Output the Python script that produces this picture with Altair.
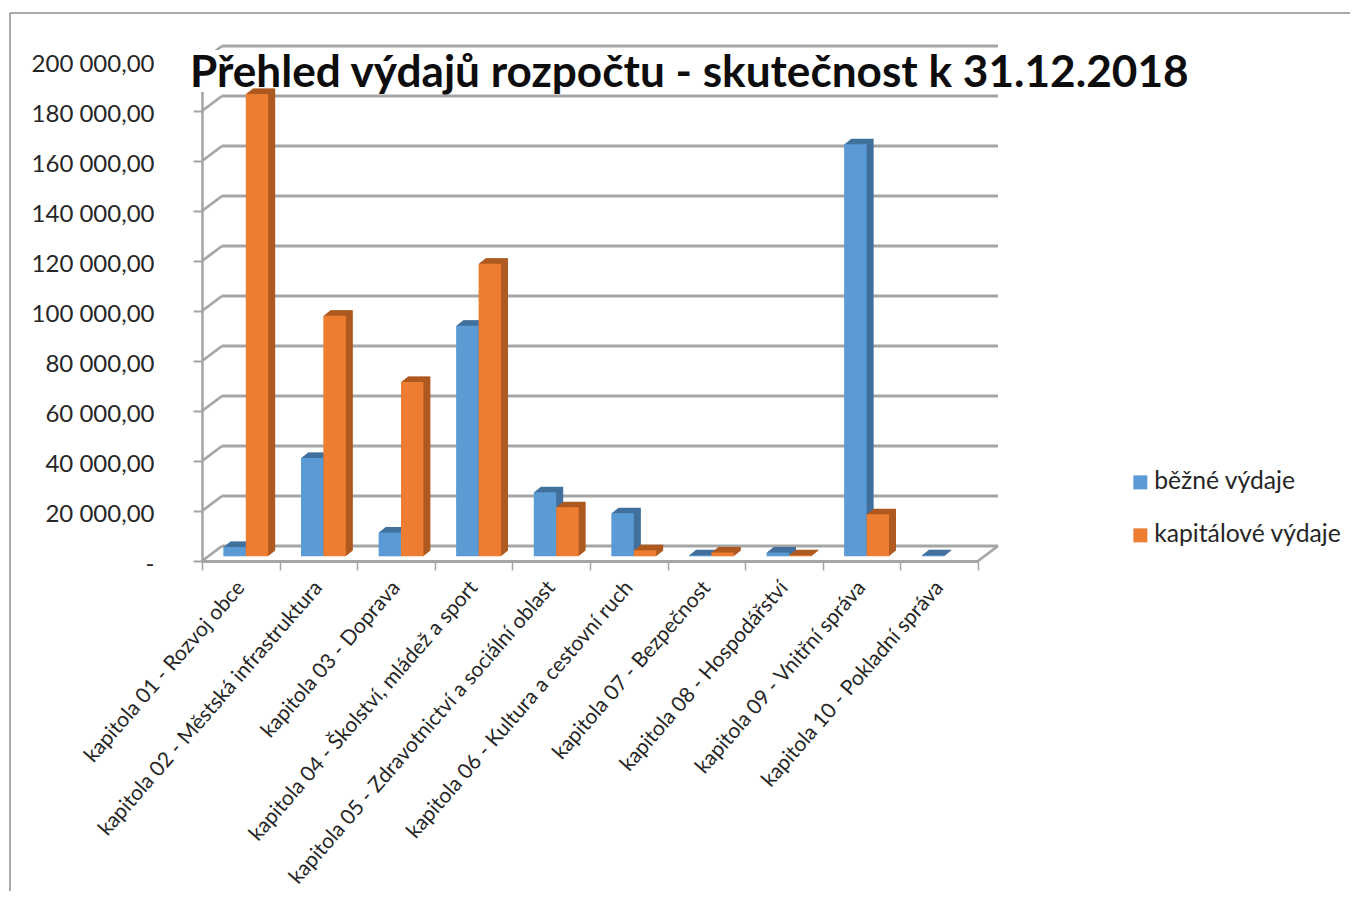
import altair as alt
import pandas as pd

categories = [
    "kapitola 01 - Rozvoj obce",
    "kapitola 02 - Městská infrastruktura",
    "kapitola 03 - Doprava",
    "kapitola 04 - Školství, mládež a sport",
    "kapitola 05 - Zdravotnictví a sociální oblast",
    "kapitola 06 - Kultura a cestovní ruch",
    "kapitola 07 - Bezpečnost",
    "kapitola 08 - Hospodářství",
    "kapitola 09 - Vnitřní správa",
    "kapitola 10 - Pokladní správa",
]
series_names = ["běžné výdaje", "kapitálové výdaje"]
bezne = [3700, 39300, 9500, 92200, 25600, 17200, 400, 1500, 164800, 400]
kapitalove = [184900, 96200, 69700, 117000, 19600, 2400, 1500, 400, 16800, 0]
grid_values = list(range(0, 200001, 20000))
title_text = "Přehled výdajů rozpočtu - skutečnost k 31.12.2018"

FONT = "Lato"
GRID = "#a5a5a5"
colors = ["#5b9bd5", "#ed7d31"]
dark = ["#41719c", "#ae5a21"]

BAR_W = 0.2887  # bar width as a share of a category
rows = []
for i, cat in enumerate(categories):
    for j, (name, vals) in enumerate(zip(series_names, [bezne, kapitalove])):
        x0 = i + 0.5 + (j - 1) * BAR_W
        rows.append({"cat": cat, "series": name, "v": vals[i], "zero": 0, "x0": x0, "x1": x0 + BAR_W})
df = pd.DataFrame(rows)
grid = pd.DataFrame({"v": grid_values})

W, H = 776, 500
band_scale = alt.Scale(domain=categories, paddingInner=0, paddingOuter=0, round=False)
num_scale = alt.Scale(domain=[0, 10], nice=False, zero=False)
y_scale = alt.Scale(domain=[0, 200000], nice=False)

label_expr = (
    "datum.value == 0 ? '-\u00a0\u00a0' : "
    "replace(replace(format(datum.value, ',.2f'), /,/g, ' '), '.', ',')"
)
y_axis = alt.Axis(
    values=grid_values, labelExpr=label_expr, title=None, grid=False,
    labelFont=FONT, labelFontSize=24, labelColor="#262626", labelPadding=39,
    labelOffset=3, tickSize=9, tickColor=GRID, tickWidth=2,
    domainColor=GRID, domainWidth=2.5, labelOverlap=False,
)
x_axis = alt.Axis(
    title=None, grid=False, labelAngle=-49, labelFont=FONT, labelFontSize=21,
    labelColor="#262626", labelPadding=14, tickSize=9, tickBand="extent",
    tickColor=GRID, tickWidth=1.5, domainColor=GRID, domainWidth=3,
    labelLimit=400, labelOverlap=False,
)

# first layer only carries the two axes
layers = [
    alt.Chart(df).mark_bar(opacity=0).encode(
        x=alt.X("cat:N", scale=band_scale, axis=x_axis, sort=categories),
        y=alt.Y("v:Q", scale=y_scale, axis=y_axis, stack=None),
    )
]


def rule_layer(x0, x1, y_off0, y_off1, data=grid):
    return (
        alt.Chart(data)
        .mark_rule(color=GRID, strokeWidth=2.8, yOffset=y_off0, y2Offset=y_off1)
        .encode(
            x=alt.value(x0), x2=alt.value(x1),
            y=alt.Y("v:Q", scale=y_scale, axis=None), y2=alt.Y2("v:Q"),
        )
    )


layers += [
    rule_layer(20, W + 20, -15, -15),
    rule_layer(0, 20, 0, -15),
    rule_layer(W, W + 20, 0, -15, pd.DataFrame({"v": [0]})),
]

# white box behind the title hides the wall lines there
title_box = pd.DataFrame({"a": [0]})
layers.append(
    alt.Chart(title_box).mark_rect(color="white").encode(
        x=alt.value(-14), x2=alt.value(W + 21), y=alt.value(-11), y2=alt.value(31)
    )
)

BASE_X, BASE_Y = 5, -4.7
STEPS = 14
for t in range(STEPS, 0, -1):
    dx = BASE_X + t * 0.5
    dy = BASE_Y - t * 0.4
    for s, d in zip(series_names, dark):
        layers.append(
            alt.Chart(df)
            .transform_filter(alt.datum.series == s)
            .mark_bar(color=d, xOffset=dx, x2Offset=dx, yOffset=dy, y2Offset=dy)
            .encode(
                x=alt.X("x0:Q", scale=num_scale, axis=None),
                x2=alt.X2("x1:Q"),
                y=alt.Y("v:Q", scale=y_scale, axis=None),
                y2=alt.Y2("zero:Q"),
            )
        )

layers.append(
    alt.Chart(df)
    .mark_bar(xOffset=BASE_X, x2Offset=BASE_X, yOffset=BASE_Y, y2Offset=BASE_Y)
    .encode(
        x=alt.X("x0:Q", scale=num_scale, axis=None),
        x2=alt.X2("x1:Q"),
        y=alt.Y("v:Q", scale=y_scale, axis=None),
        y2=alt.Y2("zero:Q"),
        color=alt.Color(
            "series:N",
            scale=alt.Scale(domain=series_names, range=colors),
            legend=alt.Legend(
                title=None, orient="none", legendX=926, legendY=409,
                symbolType="square", symbolSize=196, symbolStrokeWidth=0,
                labelFont=FONT, labelFontSize=24.7, labelColor="#262626",
                labelLimit=400, rowPadding=27, labelOffset=1.5,
            ),
        ),
    )
)

# outer frame
layers.append(
    alt.Chart(title_box).mark_rule(color="#8c8c8c", strokeWidth=1.5).encode(
        x=alt.value(-192), x2=alt.value(1156), y=alt.value(-48)
    )
)
layers.append(
    alt.Chart(title_box).mark_rule(color="#8c8c8c", strokeWidth=1.5).encode(
        x=alt.value(-192), y=alt.value(-48), y2=alt.value(844)
    )
)

layers.append(
    alt.Chart(pd.DataFrame({"t": [title_text]}))
    .mark_text(font=FONT, fontWeight="bold", fontSize=44.15, align="left", baseline="alphabetic", color="#0d0d0d")
    .encode(x=alt.value(-12), y=alt.value(26), text="t:N")
)

chart = (
    alt.layer(*layers)
    .resolve_scale(x="independent")
    .resolve_axis(x="independent", y="independent")
    .properties(
        width=W, height=H,
        background="white",
        padding={"left": 194, "top": 53, "right": 372, "bottom": 330},
        autosize=alt.AutoSizeParams(type="none"),
    )
    .configure_view(strokeWidth=0)
)
chart.save("out.html", embed_options={"renderer": "svg", "actions": False})
